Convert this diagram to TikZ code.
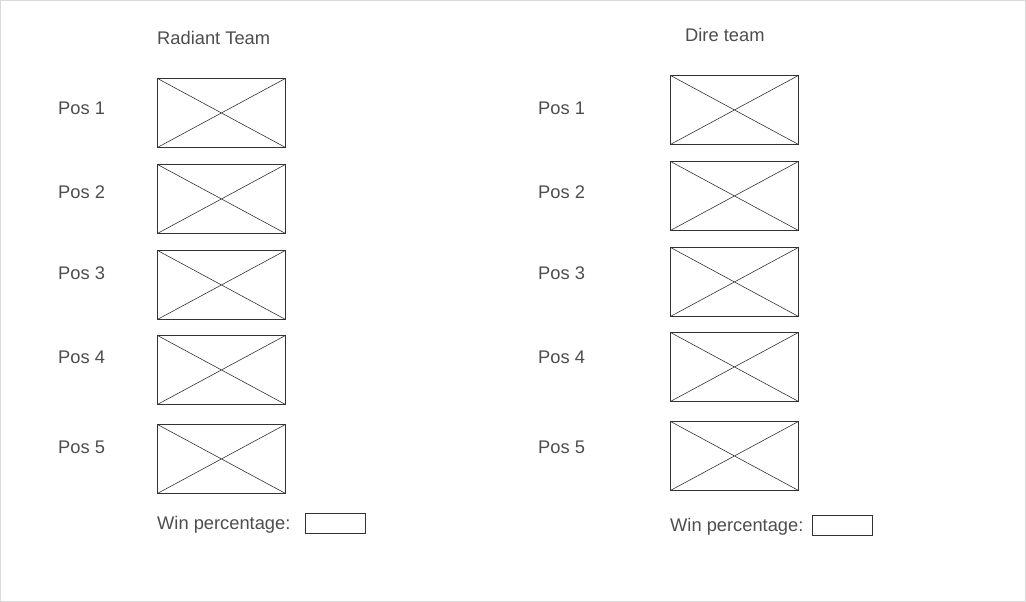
\documentclass[tikz,border=0pt]{standalone}
\usepackage{fontspec}
\setmainfont{Liberation Sans}
\definecolor{txt}{HTML}{4D4D4D}
\definecolor{ln}{HTML}{333333}
\definecolor{frame}{HTML}{D9D9D9}
\begin{document}
\begin{tikzpicture}[x=1pt,y=-1pt,
  lbl/.style={anchor=west,inner sep=0pt,text=txt,font=\fontsize{18.3}{22}\selectfont},
  img/.style={draw=ln,line width=0.9pt,anchor=north west,minimum width=128pt,minimum height=69pt,inner sep=0pt,
    path picture={\draw[ln,line width=0.6pt] (path picture bounding box.north west) -- (path picture bounding box.south east)
      (path picture bounding box.south west) -- (path picture bounding box.north east);}},
  pct/.style={draw=ln,line width=0.9pt,anchor=north west,minimum width=60pt,minimum height=20pt,inner sep=0pt}]
\useasboundingbox (0,0) rectangle (1026,602);
\draw[frame,line width=1pt] (0.5,0.5) rectangle (1025.5,601.5);
% headings
\node[lbl] (rt) at (157,38) {Radiant Team};
\node[lbl] (dt) at (685,35) {Dire team};
% radiant
\node[lbl] (rl1) at (58,108) {Pos 1};
\node[lbl] (rl2) at (58,192) {Pos 2};
\node[lbl] (rl3) at (58,273) {Pos 3};
\node[lbl] (rl4) at (58,357) {Pos 4};
\node[lbl] (rl5) at (58,447) {Pos 5};
\node[img] (rb1) at (157,78) {};
\node[img] (rb2) at (157,164) {};
\node[img] (rb3) at (157,250) {};
\node[img] (rb4) at (157,335) {};
\node[img] (rb5) at (157,424) {};
\node[lbl] (rw) at (157,525) {Win percentage:};
\node[pct] (rp) at (305,513) {};
% dire
\node[lbl] (dl1) at (538,108) {Pos 1};
\node[lbl] (dl2) at (538,192) {Pos 2};
\node[lbl] (dl3) at (538,273) {Pos 3};
\node[lbl] (dl4) at (538,357) {Pos 4};
\node[lbl] (dl5) at (538,447) {Pos 5};
\node[img] (db1) at (670,75) {};
\node[img] (db2) at (670,161) {};
\node[img] (db3) at (670,247) {};
\node[img] (db4) at (670,332) {};
\node[img] (db5) at (670,421) {};
\node[lbl] (dw) at (670,527) {Win percentage:};
\node[pct] (dp) at (812,515) {};
\end{tikzpicture}
\end{document}
